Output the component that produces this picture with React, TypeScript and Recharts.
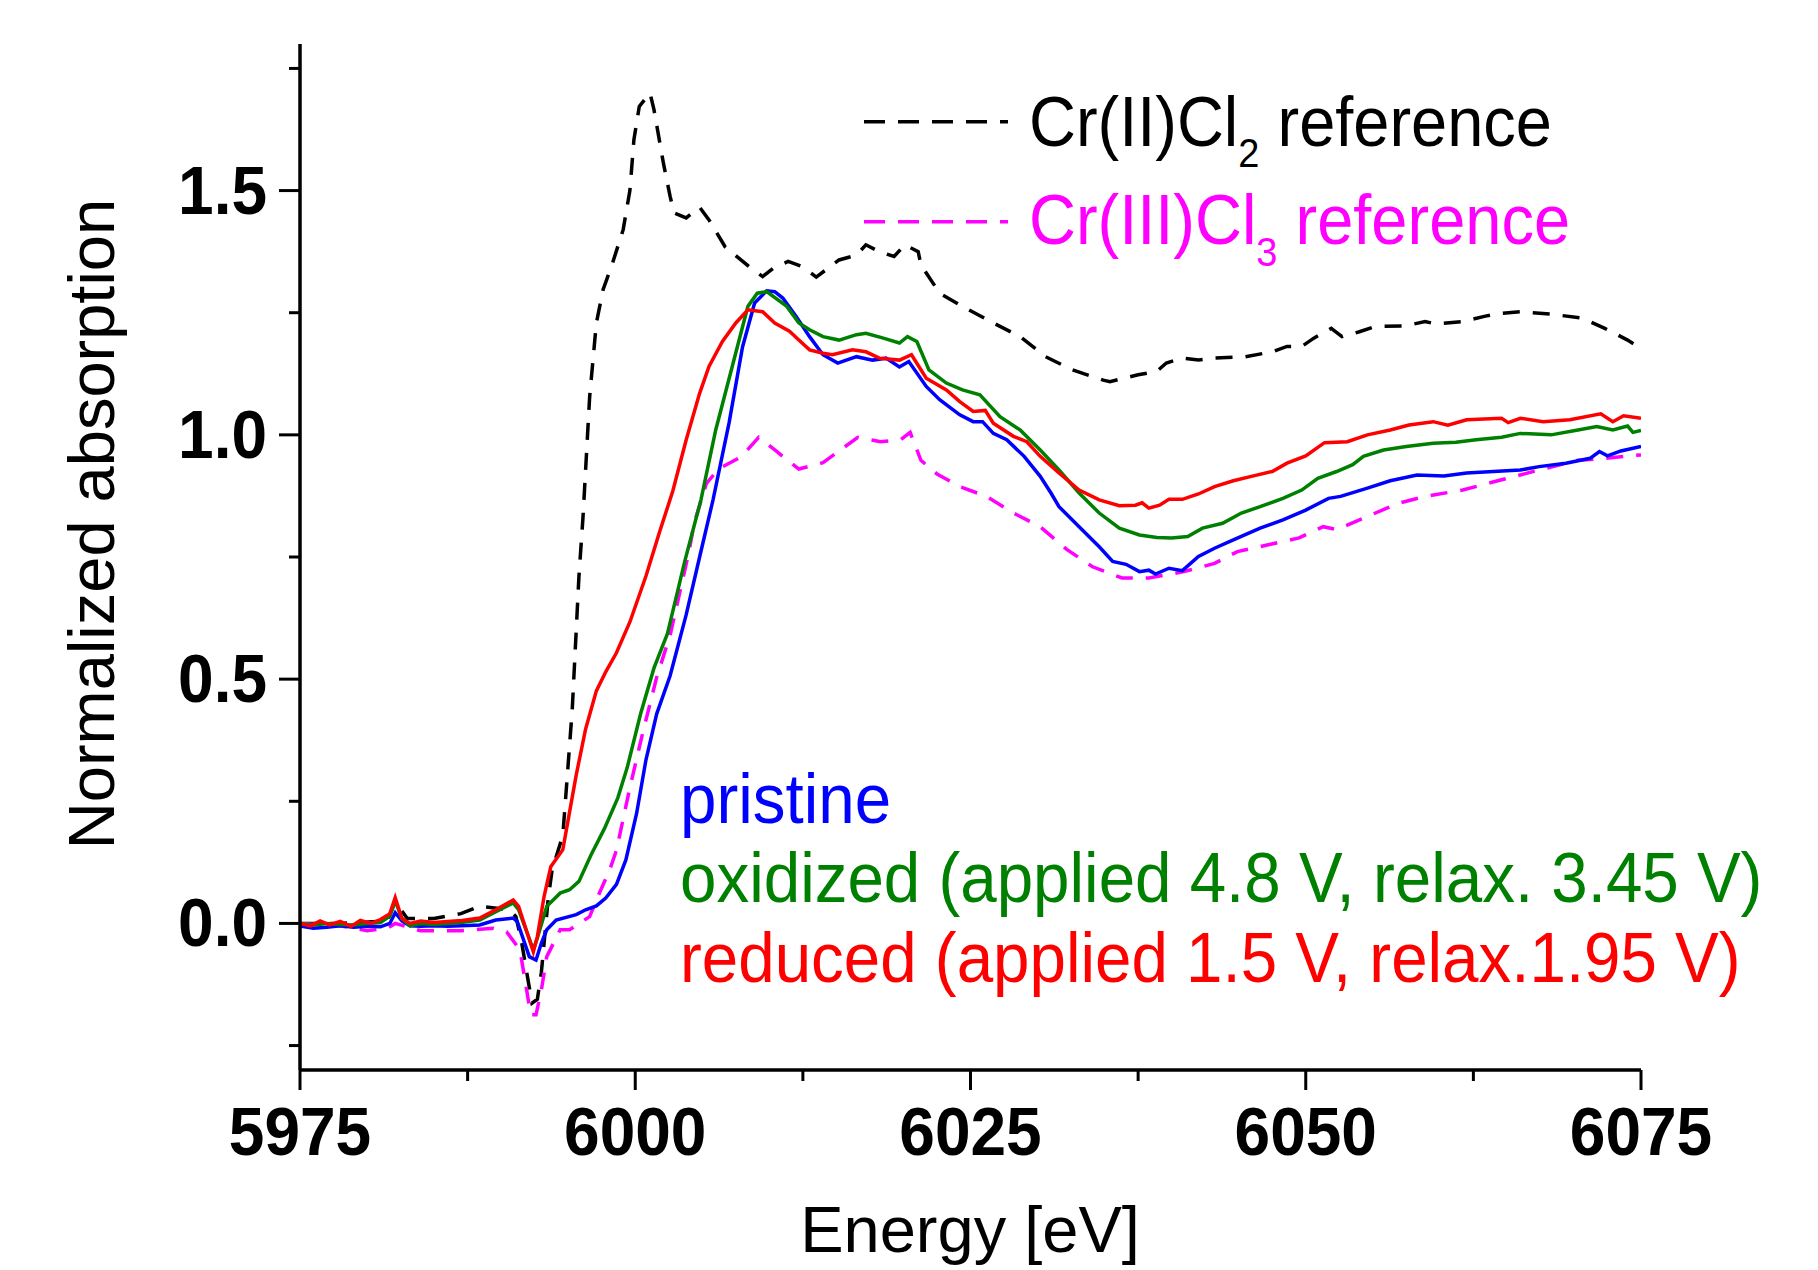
import React from 'react';
import { LineChart, Line, XAxis, YAxis } from 'recharts';

const FONT = '"Liberation Sans", Arial, Helvetica, sans-serif';

// Energy axis ticks
const xTicks = [5975, 5987.5, 6000, 6012.5, 6025, 6037.5, 6050, 6062.5, 6075];
const xLabelTicks = [5975, 6000, 6025, 6050, 6075];
const yTicks = [-0.25, 0, 0.25, 0.5, 0.75, 1.0, 1.25, 1.5, 1.75];
const yLabelTicks = [0, 0.5, 1.0, 1.5];
const yLabelText: Record<string, string> = { '0': '0.0', '0.5': '0.5', '1': '1.0', '1.5': '1.5' };

// Cr(II)Cl2 reference (black dashed)
const crIIE = [5975, 5978, 5981.5, 5982.1, 5983, 5985, 5987, 5988.4, 5990.6, 5991.1, 5991.5, 5992.0, 5992.3, 5992.7, 5993.0, 5993.5, 5993.8, 5994.6, 5995.3, 5995.8, 5996.1, 5996.6, 5997.1, 5997.6, 5998.3, 5999.1, 5999.6, 5999.9, 6000.3, 6001.1, 6001.4, 6002.1, 6002.6, 6002.9, 6003.8, 6004.8, 6005.5, 6006.7, 6008.5, 6009.5, 6010.3, 6011.4, 6012.5, 6013.5, 6015.2, 6016.5, 6017.2, 6018.2, 6019.3, 6020.1, 6021.1, 6021.3, 6022.7, 6024.4, 6026.7, 6028.7, 6030.6, 6032.6, 6034.9, 6035.4, 6036.6, 6037.5, 6038.9, 6039.6, 6040.8, 6042.0, 6043.2, 6045.5, 6047.5, 6048.6, 6049.7, 6050.6, 6051.9, 6052.7, 6054.0, 6055.2, 6057.4, 6058.9, 6059.7, 6061.7, 6063.4, 6064.3, 6066.0, 6068.3, 6070.6, 6072.3, 6074.0, 6075];
const crIIY = [0.0, 0.0, 0.005, 0.045, 0.01, 0.01, 0.02, 0.035, 0.028, 0.014, -0.034, -0.115, -0.163, -0.155, -0.1, 0.048, 0.11, 0.18, 0.437, 0.71, 0.83, 1.078, 1.229, 1.297, 1.351, 1.42, 1.5, 1.604, 1.672, 1.7, 1.665, 1.556, 1.488, 1.454, 1.444, 1.466, 1.44, 1.385, 1.344, 1.324, 1.341, 1.355, 1.344, 1.323, 1.358, 1.368, 1.389, 1.375, 1.365, 1.389, 1.375, 1.348, 1.29, 1.263, 1.229, 1.201, 1.16, 1.133, 1.112, 1.109, 1.117, 1.123, 1.13, 1.147, 1.157, 1.153, 1.157, 1.16, 1.17, 1.181, 1.181, 1.198, 1.218, 1.201, 1.211, 1.222, 1.223, 1.232, 1.227, 1.232, 1.243, 1.248, 1.252, 1.247, 1.239, 1.218, 1.194, 1.177];

// Cr(III)Cl3 reference (magenta dashed)
const crIIIE = [5975, 5978, 5980, 5981.5, 5982.1, 5984, 5987, 5989.4, 5990.4, 5991.4, 5991.9, 5992.2, 5992.6, 5993.0, 5993.4, 5994.4, 5995.1, 5996.6, 5997.1, 5998.1, 5998.6, 5999.6, 6000.6, 6001.6, 6002.6, 6004.0, 6004.4, 6005.3, 6006.2, 6007.9, 6009.2, 6010.5, 6012.2, 6014.0, 6016.6, 6018.3, 6019.8, 6020.5, 6021.3, 6022.5, 6024.2, 6026.2, 6028.2, 6030.2, 6032.2, 6034.1, 6036.3, 6038.3, 6040.9, 6043.2, 6044.9, 6047.2, 6049.5, 6051.3, 6052.3, 6054.6, 6056.9, 6058.9, 6061.7, 6064.6, 6067.4, 6070.3, 6072.3, 6075];
const crIIIY = [0.0, -0.005, -0.015, -0.01, 0.0, -0.015, -0.015, -0.01, -0.017, -0.054, -0.136, -0.187, -0.187, -0.136, -0.068, -0.013, -0.013, 0.014, 0.048, 0.11, 0.15, 0.278, 0.395, 0.504, 0.59, 0.76, 0.82, 0.9, 0.93, 0.955, 0.995, 0.967, 0.93, 0.943, 0.995, 0.986, 0.99, 1.005, 0.948, 0.92, 0.894, 0.874, 0.84, 0.812, 0.765, 0.73, 0.707, 0.707, 0.72, 0.737, 0.761, 0.775, 0.789, 0.812, 0.806, 0.833, 0.86, 0.874, 0.887, 0.908, 0.928, 0.948, 0.952, 0.959];

// pristine (blue)
const pristineE = [5975, 5976, 5977, 5978, 5979, 5980, 5981, 5981.7, 5982.1, 5982.6, 5983.2, 5984, 5985, 5986, 5987, 5988.4, 5989.6, 5990.9, 5991.2, 5992.1, 5992.6, 5993.0, 5993.4, 5994.1, 5995.6, 5996.3, 5997.1, 5997.8, 5998.6, 5999.3, 6000.1, 6000.8, 6001.6, 6002.6, 6003.8, 6004.8, 6005.8, 6007.0, 6008.0, 6008.9, 6009.8, 6010.4, 6011.0, 6012.0, 6013.0, 6014.0, 6015.1, 6016.5, 6017.7, 6018.7, 6019.7, 6020.4, 6021.7, 6022.7, 6024.2, 6025.2, 6025.9, 6026.7, 6027.7, 6029.0, 6030.2, 6031.0, 6031.6, 6033.1, 6034.6, 6035.6, 6036.6, 6037.6, 6038.3, 6038.8, 6039.8, 6040.8, 6042.0, 6043.2, 6044.6, 6046.6, 6048.3, 6050.0, 6051.7, 6052.6, 6054.6, 6056.3, 6058.3, 6060.3, 6062.0, 6064.0, 6066.0, 6067.4, 6069.4, 6071.2, 6071.9, 6072.5, 6073.5, 6075];
const pristineY = [-0.005, -0.01, -0.008, -0.005, -0.008, -0.006, -0.007, 0.0, 0.022, 0.005, -0.005, -0.006, -0.005, -0.006, -0.005, -0.003, 0.007, 0.011, 0.004, -0.068, -0.075, -0.04, -0.013, 0.007, 0.018, 0.028, 0.036, 0.052, 0.08, 0.13, 0.225, 0.335, 0.429, 0.507, 0.632, 0.75, 0.867, 1.025, 1.18, 1.27, 1.295, 1.293, 1.28, 1.242, 1.201, 1.164, 1.147, 1.16, 1.153, 1.157, 1.139, 1.15, 1.099, 1.072, 1.041, 1.027, 1.027, 1.003, 0.99, 0.956, 0.915, 0.881, 0.853, 0.812, 0.771, 0.741, 0.735, 0.72, 0.723, 0.715, 0.727, 0.722, 0.751, 0.768, 0.785, 0.809, 0.826, 0.846, 0.87, 0.874, 0.891, 0.906, 0.918, 0.916, 0.922, 0.925, 0.928, 0.935, 0.942, 0.952, 0.966, 0.957, 0.967, 0.976];

// oxidized (green)
const oxidizedE = [5975, 5976, 5977, 5978, 5979, 5980, 5981, 5981.7, 5982.1, 5982.6, 5983.2, 5984, 5985, 5986, 5987, 5988.4, 5989.9, 5990.9, 5991.3, 5992.4, 5992.7, 5993.4, 5994.4, 5995.1, 5995.8, 5996.7, 5997.7, 5998.7, 5999.4, 6000.4, 6001.4, 6002.4, 6003.7, 6004.9, 6006.0, 6007.3, 6008.4, 6009.1, 6009.8, 6011.3, 6012.2, 6013.0, 6014.0, 6015.2, 6016.5, 6017.2, 6018.5, 6019.7, 6020.3, 6021.0, 6021.9, 6023.2, 6024.4, 6025.7, 6027.2, 6028.7, 6030.2, 6031.6, 6033.1, 6034.6, 6036.1, 6037.6, 6038.9, 6040.0, 6041.2, 6042.3, 6043.8, 6045.2, 6046.6, 6048.3, 6049.7, 6050.9, 6052.3, 6053.5, 6054.3, 6055.8, 6057.5, 6059.5, 6061.2, 6062.7, 6064.6, 6066.0, 6068.3, 6070.3, 6071.7, 6072.9, 6074.0, 6074.4, 6075];
const oxidizedY = [0.0, -0.003, 0.0, -0.002, -0.003, 0.0, 0.002, 0.015, 0.046, 0.01, -0.005, 0.0, -0.002, 0.0, 0.002, 0.007, 0.028, 0.042, 0.028, -0.054, -0.03, 0.035, 0.062, 0.069, 0.086, 0.14, 0.194, 0.257, 0.319, 0.429, 0.523, 0.593, 0.742, 0.867, 1.01, 1.147, 1.263, 1.29, 1.293, 1.263, 1.229, 1.215, 1.201, 1.194, 1.205, 1.208, 1.198, 1.188, 1.201, 1.191, 1.133, 1.106, 1.092, 1.082, 1.037, 1.01, 0.969, 0.928, 0.881, 0.84, 0.809, 0.795, 0.79, 0.789, 0.792, 0.809, 0.819, 0.84, 0.853, 0.87, 0.887, 0.911, 0.925, 0.939, 0.956, 0.969, 0.976, 0.983, 0.985, 0.99, 0.995, 1.003, 1.0, 1.01, 1.017, 1.01, 1.018, 1.005, 1.009];

// reduced (red)
const reducedE = [5975, 5975.8, 5976.5, 5977.2, 5978, 5978.8, 5979.5, 5980.3, 5981, 5981.7, 5982.1, 5982.6, 5983.2, 5984, 5985, 5986, 5987.1, 5988.4, 5989.6, 5990.9, 5991.3, 5992.4, 5992.7, 5993.2, 5993.7, 5994.6, 5995.6, 5996.3, 5997.1, 5997.8, 5998.6, 5999.6, 6000.8, 6001.8, 6002.8, 6003.8, 6004.8, 6005.5, 6006.5, 6007.5, 6008.4, 6009.5, 6010.4, 6011.5, 6012.2, 6013.0, 6014.0, 6014.7, 6016.2, 6017.2, 6018.2, 6019.7, 6020.6, 6021.7, 6023.2, 6024.2, 6025.2, 6026.1, 6026.7, 6028.2, 6029.2, 6030.2, 6031.6, 6033.1, 6034.6, 6036.1, 6037.3, 6037.8, 6038.3, 6039.1, 6039.8, 6040.8, 6042.0, 6043.2, 6044.6, 6046.1, 6047.5, 6048.6, 6050.0, 6051.4, 6053.1, 6054.6, 6056.3, 6057.7, 6059.5, 6060.6, 6062.0, 6064.6, 6065.1, 6066.0, 6067.7, 6069.7, 6072.0, 6072.9, 6073.7, 6075];
const reducedY = [0.0, -0.005, 0.005, -0.003, 0.004, -0.006, 0.006, 0.0, 0.008, 0.02, 0.053, 0.01, 0.0, 0.005, 0.002, 0.004, 0.006, 0.011, 0.028, 0.048, 0.035, -0.058, -0.027, 0.055, 0.116, 0.151, 0.304, 0.398, 0.476, 0.515, 0.554, 0.617, 0.711, 0.8, 0.885, 0.99, 1.085, 1.14, 1.191, 1.229, 1.256, 1.252, 1.229, 1.212, 1.194, 1.174, 1.167, 1.164, 1.174, 1.17, 1.157, 1.153, 1.164, 1.116, 1.092, 1.068, 1.048, 1.05, 1.024, 0.997, 0.986, 0.956, 0.922, 0.887, 0.867, 0.855, 0.856, 0.861, 0.85, 0.856, 0.868, 0.868, 0.879, 0.894, 0.906, 0.916, 0.925, 0.942, 0.957, 0.984, 0.986, 1.0, 1.01, 1.02, 1.027, 1.02, 1.031, 1.034, 1.025, 1.034, 1.027, 1.031, 1.043, 1.027, 1.039, 1.034];

const toPoints = (e: number[], v: number[]) => e.map((x, i) => ({ e: x, v: v[i] }));

const crIIData = toPoints(crIIE, crIIY);
const crIIIData = toPoints(crIIIE, crIIIY);
const pristineData = toPoints(pristineE, pristineY);
const oxidizedData = toPoints(oxidizedE, oxidizedY);
const reducedData = toPoints(reducedE, reducedY);

const TXT_SY = 1.08;

const XTick = (props: any) => {
  const { x, y, payload } = props;
  const major = xLabelTicks.includes(payload.value);
  return (
    <g>
      <line x1={x} x2={x} y1={y} y2={y + (major ? 20 : 11)} stroke="#000" strokeWidth={3} />
      {major && (
        <text
          transform={`translate(${x},${y + 85}) scale(1,${TXT_SY})`}
          textAnchor="middle"
          fontFamily={FONT}
          fontWeight="bold"
          fontSize={64}
          fill="#000"
        >
          {payload.value}
        </text>
      )}
    </g>
  );
};

const YTick = (props: any) => {
  const { x, y, payload } = props;
  const major = yLabelTicks.includes(payload.value);
  return (
    <g>
      <line x1={x - (major ? 21 : 11)} x2={x} y1={y} y2={y} stroke="#000" strokeWidth={3} />
      {major && (
        <text
          transform={`translate(${x - 33},${y + 23}) scale(1,${TXT_SY})`}
          textAnchor="end"
          fontFamily={FONT}
          fontWeight="bold"
          fontSize={64}
          fill="#000"
        >
          {yLabelText[String(payload.value)]}
        </text>
      )}
    </g>
  );
};

const Overlay = () => (
  <svg
    width={1818}
    height={1270}
    style={{ position: 'absolute', left: 0, top: 0, pointerEvents: 'none' }}
    fontFamily={FONT}
  >
    {/* reference legend */}
    <line x1={864} x2={1008} y1={121.7} y2={121.7} stroke="#000" strokeWidth={3.5} strokeDasharray="21 13" />
    <text transform={`translate(1029,146) scale(1,${TXT_SY})`} fontSize={65} fill="#000">
      Cr(II)Cl<tspan fontSize={38} dy={19}>2</tspan>
      <tspan dy={-19}> reference</tspan>
    </text>
    <line x1={864} x2={1008} y1={221.7} y2={221.7} stroke="#ff00ff" strokeWidth={3.5} strokeDasharray="21 13" />
    <text transform={`translate(1029,244) scale(1,${TXT_SY})`} fontSize={65} fill="#ff00ff">
      Cr(III)Cl<tspan fontSize={38} dy={20}>3</tspan>
      <tspan dy={-20}> reference</tspan>
    </text>
    {/* sample labels */}
    <text transform={`translate(680,823) scale(1,${TXT_SY})`} fontSize={65.5} fill="#0000ff">pristine</text>
    <text transform={`translate(680,902) scale(1,${TXT_SY})`} fontSize={65.5} fill="#008000">
      oxidized (applied 4.8 V, relax. 3.45 V)
    </text>
    <text transform={`translate(680,982) scale(1,${TXT_SY})`} fontSize={65.5} fill="#ff0000">
      reduced (applied 1.5 V, relax.1.95 V)
    </text>
    {/* axis titles */}
    <text transform="translate(970,1252)" textAnchor="middle" fontSize={65} fill="#000">Energy [eV]</text>
    <text transform="translate(114,524) rotate(-90)" textAnchor="middle" fontSize={65} fill="#000">
      Normalized absorption
    </text>
  </svg>
);

export default function App() {
  return (
    <div style={{ position: 'absolute', left: 0, top: 0, width: 1818, height: 1270, background: '#fff' }}>
      <LineChart width={1818} height={1270} margin={{ top: 44, right: 177, bottom: 100, left: 100 }}>
        <XAxis
          type="number"
          dataKey="e"
          domain={[5975, 6075]}
          ticks={xTicks}
          interval={0}
          allowDataOverflow
          height={100}
          tickSize={0}
          tickMargin={0}
          tick={<XTick />}
          axisLine={{ stroke: '#000', strokeWidth: 3.5 }}
        />
        <YAxis
          type="number"
          dataKey="v"
          domain={[-0.3, 1.8]}
          ticks={yTicks}
          interval={0}
          allowDataOverflow
          width={200}
          tickSize={0}
          tickMargin={0}
          tick={<YTick />}
          axisLine={{ stroke: '#000', strokeWidth: 3.5 }}
        />
        <Line data={crIIData} dataKey="v" type="linear" stroke="#000000" strokeWidth={3.5} strokeDasharray="17 13" dot={false} activeDot={false} isAnimationActive={false} />
        <Line data={crIIIData} dataKey="v" type="linear" stroke="#ff00ff" strokeWidth={3.5} strokeDasharray="17 13" dot={false} activeDot={false} isAnimationActive={false} />
        <Line data={pristineData} dataKey="v" type="linear" stroke="#0000ff" strokeWidth={3.5} dot={false} activeDot={false} isAnimationActive={false} />
        <Line data={oxidizedData} dataKey="v" type="linear" stroke="#008000" strokeWidth={3.5} dot={false} activeDot={false} isAnimationActive={false} />
        <Line data={reducedData} dataKey="v" type="linear" stroke="#ff0000" strokeWidth={3.5} dot={false} activeDot={false} isAnimationActive={false} />
      </LineChart>
      <Overlay />
    </div>
  );
}
